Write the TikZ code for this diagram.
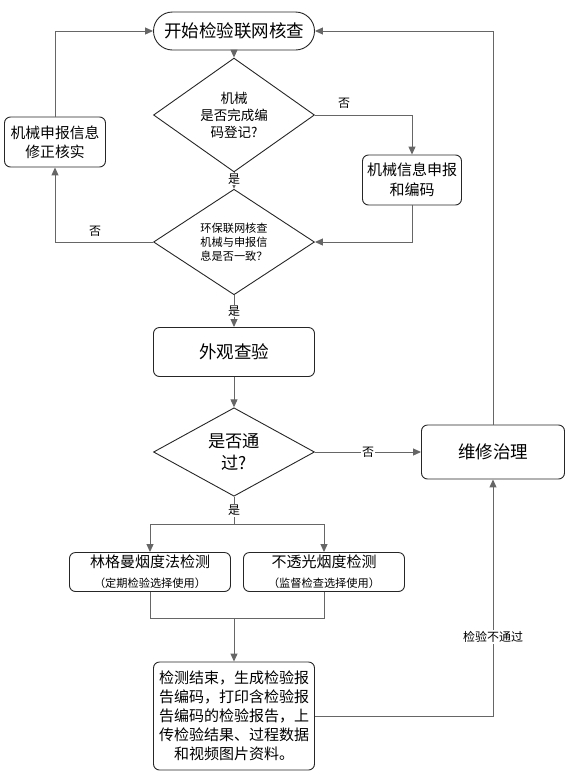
\documentclass[tikz,border=0pt]{standalone}
\usepackage{fontspec}
\setmainfont{Noto Sans CJK SC}
\usetikzlibrary{shapes.geometric,arrows.meta}
\tikzset{
 box/.style={draw=black!85, rounded corners=6pt, line width=0.9pt, align=center, inner sep=0pt},
 dia/.style={draw=black!85, diamond, line width=0.9pt, align=center, inner sep=0pt, minimum width=161pt, minimum height=70pt},
 conn/.style={draw=black!60, line width=1pt},
 arr/.style={conn, -{Triangle[length=8pt,width=7pt]}},
 lbl/.style={font=\fontsize{12}{13}\selectfont, fill=white, inner sep=1pt},
}
\begin{document}
\begin{tikzpicture}[x=1pt,y=-1pt]
\useasboundingbox (0,0) rectangle (572,780);
\node[box, rounded corners=19pt, minimum width=161pt, minimum height=38pt, font=\fontsize{17.5}{19}\selectfont] (start) at (234,31) {开始检验联网核查};
\node[dia, font=\fontsize{13.5}{17}\selectfont] (d1) at (234,115) {机械\\是否完成编\\码登记?};
\node[box, minimum width=99pt, minimum height=50pt, font=\fontsize{15}{20}\selectfont] (reg) at (412,180) {机械信息申报\\和编码};
\node[dia, font=\fontsize{11.2}{14}\selectfont] (d2) at (234,242) {环保联网核查\\机械与申报信\\息是否一致？};
\node[box, minimum width=101pt, minimum height=50pt, font=\fontsize{14.8}{19}\selectfont] (fix) at (55,142) {机械申报信息\\修正核实};
\node[box, minimum width=161pt, minimum height=49pt, font=\fontsize{17.5}{19}\selectfont] (look) at (234,352) {外观查验};
\node[dia, font=\fontsize{17.2}{22}\selectfont] (d3) at (234,452) {是否通\\过?};
\node[box, minimum width=143pt, minimum height=54pt, font=\fontsize{17.5}{19}\selectfont] (rep) at (493,452) {维修治理};
\node[box, minimum width=161pt, minimum height=39pt, font=\fontsize{15}{20}\selectfont] (lin) at (150,572) {林格曼烟度法检测\\{\fontsize{11.2}{12}\selectfont（定期检验选择使用）}};
\node[box, minimum width=161pt, minimum height=39pt, font=\fontsize{15}{20}\selectfont] (opa) at (324,572) {不透光烟度检测\\{\fontsize{11.2}{12}\selectfont（监督检查选择使用）}};
\node[box, minimum width=161pt, minimum height=108pt, font=\fontsize{15}{19}\selectfont] (end) at (234,716) {检测结束，生成检验报\\告编码，打印含检验报\\告编码的检验报告，上\\传检验结果、过程数据\\和视频图片资料。};
\coordinate (split) at (234,524);
\coordinate (merge) at (234,618);
% connectors
\draw[arr] (start.south) -- (d1.north);
\draw[arr] (d1.east) -| (reg.north);
\node[lbl, fill=none] (n1) at (344,103) {否};
\draw[arr] (d1.south) -- node[lbl, pos=0.4] (y1) {是} (d2.north);
\draw[arr] (reg.south) |- (d2.east);
\draw[arr] (d2.west) -| (fix.south);
\node[lbl, fill=none] (n2) at (95,231) {否};
\draw[arr] (fix.north) |- (start.west);
\draw[arr] (d2.south) -- node[lbl] (y2) {是} (look.north);
\draw[arr] (look.south) -- (d3.north);
\draw[arr] (d3.east) -- node[lbl] (n3) {否} (rep.west);
\draw[arr] (rep.north) |- (start.east);
\draw[conn] (d3.south) -- node[lbl] (y3) {是} (split);
\draw[arr] (split) -| (lin.north);
\draw[arr] (split) -| (opa.north);
\draw[conn] (lin.south) |- (merge);
\draw[conn] (opa.south) |- (merge);
\draw[arr] (merge) -- (end.north);
\draw[arr] (end.east) -| node[lbl, pos=0.667] (fail) {检验不通过} (rep.south);
\end{tikzpicture}
\end{document}
